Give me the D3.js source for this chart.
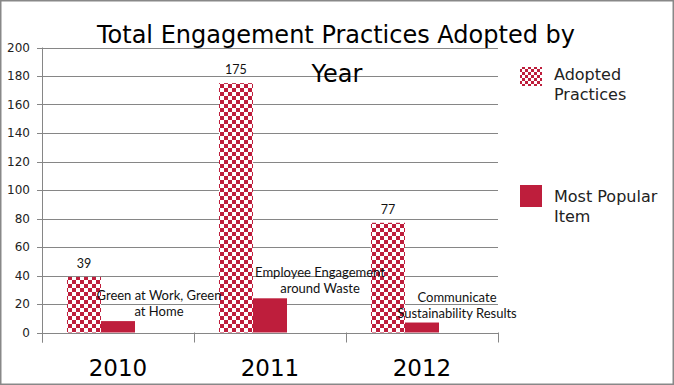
<!DOCTYPE html>
<html><head><meta charset="utf-8">
<script src="https://cdn.jsdelivr.net/npm/d3@7"></script>
<style>html,body{margin:0;padding:0;background:#fff}</style>
</head><body>
<svg id="c" width="674" height="385"></svg>
<script>
const years = ["2010", "2011", "2012"];
const adopted = [39, 175, 77];
const popular = [8, 24, 7];
const popularLabels = [
  ["Green at Work, Green", "at Home"],
  ["Employee  Engagement", "around Waste"],
  ["Communicate", "Sustainability Results"]
];
const yTicks = [0, 20, 40, 60, 80, 100, 120, 140, 160, 180, 200];
const seriesNames = ["Adopted Practices", "Most Popular Item"];
const labelNudge = [7, 16, 1];

const red = "#BE1E3C";
const gothic = "'DejaVu Sans', sans-serif";
const body = "Lato, 'Liberation Sans', sans-serif";

const svg = d3.select("#c");
const defs = svg.append("defs");
function checker(id, s) {
  const p = defs.append("pattern").attr("id", id).attr("patternUnits", "userSpaceOnUse")
    .attr("width", 2 * s).attr("height", 2 * s);
  p.append("rect").attr("width", 2 * s).attr("height", 2 * s).attr("fill", "#fff");
  p.append("rect").attr("width", s).attr("height", s).attr("fill", red);
  p.append("rect").attr("x", s).attr("y", s).attr("width", s).attr("height", s).attr("fill", red);
}
checker("chk", 4);
checker("chkL", 3);

svg.append("rect").attr("x", 0.75).attr("y", 0.75).attr("width", 672.5).attr("height", 383.5)
  .attr("fill", "#fff").attr("stroke", "#888").attr("stroke-width", 1.5);

const m = {left: 42, right: 498, top: 47.5, bottom: 332.5};
const x = d3.scaleBand().domain(years).range([m.left, m.right]);
const sub = d3.scaleBand().domain(["a", "p", "l"]).range([0, x.bandwidth()]).paddingOuter(0.735);
const y = d3.scaleLinear().domain([0, 200]).range([m.bottom, m.top]);

// gridlines
svg.append("g").selectAll("line").data(yTicks).join("line")
  .attr("x1", m.left - 5).attr("x2", m.right)
  .attr("y1", d => Math.round(y(d)) + 0.5).attr("y2", d => Math.round(y(d)) + 0.5)
  .attr("stroke", "#868686").attr("stroke-width", 1);

// y labels
svg.append("g").selectAll("text").data(yTicks).join("text")
  .attr("x", 30).attr("y", d => y(d)).attr("dy", "0.35em").attr("text-anchor", "end")
  .attr("font-family", gothic).attr("font-size", 12).attr("fill", "#222").text(d => d);

// bars
const g = svg.append("g");
g.selectAll(".a").data(years).join("rect")
  .attr("x", (d) => x(d) + sub("a")).attr("width", sub.bandwidth())
  .attr("y", (d, i) => y(adopted[i])).attr("height", (d, i) => y(0) - y(adopted[i]))
  .attr("fill", "url(#chk)");
g.selectAll(".p").data(years).join("rect")
  .attr("x", (d) => x(d) + sub("p")).attr("width", sub.bandwidth())
  .attr("y", (d, i) => y(popular[i])).attr("height", (d, i) => y(0) - y(popular[i]))
  .attr("fill", red);

// axes lines
svg.append("line").attr("x1", m.left + 0.5).attr("x2", m.left + 0.5).attr("y1", m.top).attr("y2", m.bottom + 10)
  .attr("stroke", "#868686");
svg.append("g").selectAll("line").data(x.domain().map(d => x(d)).concat([m.right])).join("line")
  .attr("x1", d => Math.round(d) + 0.5).attr("x2", d => Math.round(d) + 0.5)
  .attr("y1", m.bottom).attr("y2", m.bottom + 10).attr("stroke", "#868686");

// value labels
g.selectAll(".vl").data(years).join("text")
  .attr("x", d => x(d) + sub("a") + sub.bandwidth() / 2)
  .attr("y", (d, i) => y(adopted[i]) - 9).attr("text-anchor", "middle")
  .attr("font-family", body).attr("font-size", 12.5).attr("fill", "#111").text((d, i) => adopted[i]);

// popular labels
years.forEach((yr, i) => {
  const cx = x(yr) + sub("l") + sub.bandwidth() / 2 + labelNudge[i];
  const t = svg.append("text").attr("text-anchor", "middle")
    .attr("font-family", body).attr("font-size", 13).attr("fill", "#111");
  const lines = popularLabels[i];
  lines.forEach((ln, j) => {
    t.append("tspan").attr("x", cx)
      .attr("y", y(popular[i]) - 5 - (lines.length - 1 - j) * 16).text(ln);
  });
});

// category labels
svg.append("g").selectAll("text").data(years).join("text")
  .attr("x", d => x(d) + x.bandwidth() / 2).attr("y", 376).attr("text-anchor", "middle")
  .attr("font-family", gothic).attr("font-size", 23).attr("fill", "#000").text(d => d);

// title
const title = svg.append("text").attr("text-anchor", "middle").attr("font-family", gothic)
  .attr("font-size", 24).attr("fill", "#000");
title.append("tspan").attr("x", 336).attr("y", 43).text("Total Engagement Practices Adopted by");
title.append("tspan").attr("x", 337).attr("y", 82).text("Year");

// legend
const leg = [
  {fill: "url(#chkL)", y: 67, h: 19, lines: ["Adopted", "Practices"], ty: 80},
  {fill: red, y: 185, h: 22, lines: ["Most Popular", "Item"], ty: 202}
];
leg.forEach((l, i) => {
  svg.append("rect").attr("x", 520).attr("y", l.y).attr("width", 22).attr("height", l.h).attr("fill", l.fill);
  const t = svg.append("text").attr("font-family", gothic).attr("font-size", 16).attr("fill", "#222");
  l.lines.forEach((ln, j) => t.append("tspan").attr("x", 554).attr("y", l.ty + j * 20).text(ln));
});
</script>
</body></html>
